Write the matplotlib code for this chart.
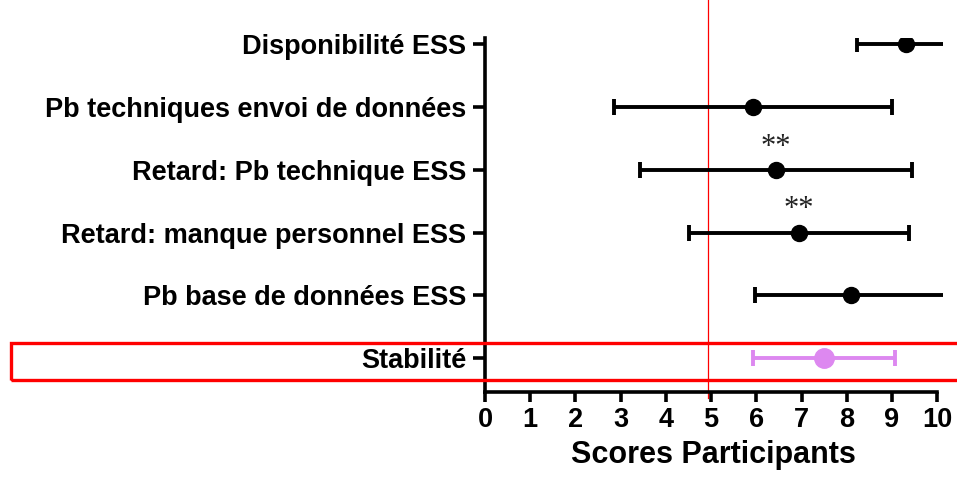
import numpy as np
import matplotlib.pyplot as plt
from matplotlib.patches import Rectangle

plt.rcParams['font.family'] = ['Liberation Sans', 'DejaVu Sans']

items = ["Disponibilité ESS", "Pb techniques envoi de données",
         "Retard: Pb technique ESS", "Retard: manque personnel ESS",
         "Pb base de données ESS", "Stabilité"]
means = [9.31, 5.93, 6.43, 6.94, 8.09, 7.5]
lower = [8.23, 2.85, 3.43, 4.5, 5.98, 5.93]
upper = [10.6, 9.0, 9.45, 9.37, 10.6, 9.06]
stars = ["", "", "**", "**", "", ""]
threshold = 4.92

fig = plt.figure(figsize=(9.57, 4.82), dpi=100)
ax = fig.add_axes([485 / 957, 90 / 482, (942.7 - 485) / 957, 354 / 482])

ypos = np.arange(len(items))
for k in range(len(items)):
    col = "#dd88f0" if items[k] == "Stabilité" else "black"
    ms = 14 if items[k] == "Stabilité" else 11.5
    err = [[means[k] - lower[k]], [upper[k] - means[k]]]
    ax.errorbar(means[k], ypos[k], xerr=err, fmt="o", color=col, ms=ms,
                elinewidth=2.8, capsize=6, capthick=2.8, zorder=3)
    if stars[k]:
        ax.text(means[k], ypos[k] - 0.13, stars[k], ha="center", va="bottom",
                fontsize=22, family=["Liberation Serif"], color="#222222")

ax.axvline(threshold, ymin=-0.017, ymax=1.12, color="red", lw=0.9,
           clip_on=False, zorder=2)

ax.set_xlim(0, 10.12)
ax.set_ylim(len(items) - 1 + 0.54, -0.1)
ax.set_xticks(range(0, 11))
ax.set_yticks(ypos)
ax.set_yticklabels(items)
ax.spines['top'].set_visible(False)
ax.spines['right'].set_visible(False)
ax.spines['bottom'].set_bounds(0, 10)
ax.spines['left'].set_linewidth(2.6)
ax.spines['bottom'].set_linewidth(2.6)
ax.tick_params(axis='y', length=8.5, width=2.6, pad=5, labelsize=19.5)
ax.tick_params(axis='x', length=7, width=2.6, pad=4, labelsize=19.5)
for lab in ax.get_xticklabels() + ax.get_yticklabels():
    lab.set_fontweight('bold')
ax.set_xlabel("Scores Participants", fontsize=22, fontweight='bold', labelpad=5)

# frame around the last row
fig.patches.append(Rectangle((11 / 957, (482 - 380) / 482), 950 / 957, 37 / 482,
                             transform=fig.transFigure, fill=False,
                             edgecolor="red", lw=2.4, zorder=5))

fig.savefig("out.png", dpi=100)
